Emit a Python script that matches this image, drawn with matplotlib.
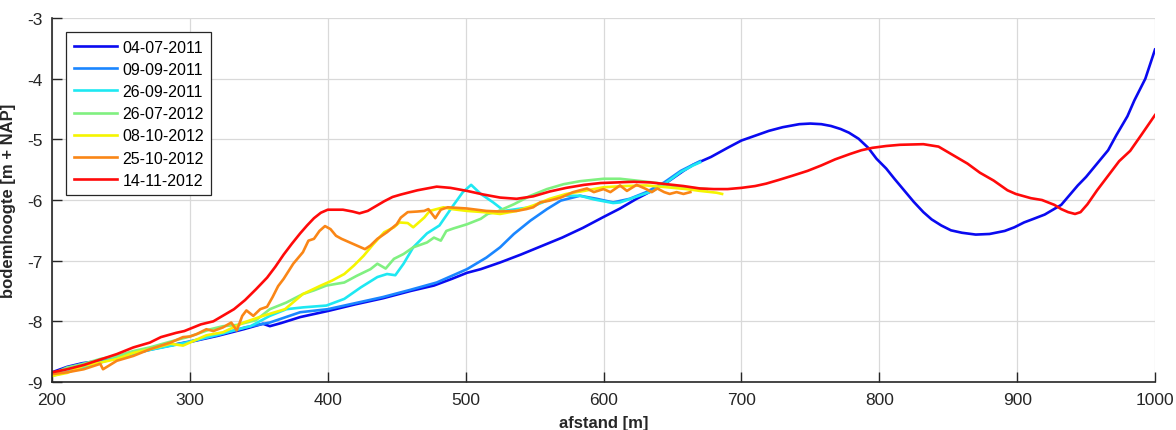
import matplotlib
matplotlib.use("Agg")
import matplotlib.pyplot as plt

plt.rcParams['font.family'] = ['Liberation Sans', 'DejaVu Sans']
plt.rcParams['axes.unicode_minus'] = False

# 04-07-2011
x_0407_11 = [200, 211, 222, 235, 247, 260, 271, 285, 300, 320, 339, 353, 358, 366, 380, 400,
             420, 440, 460, 477, 490, 501, 511, 525, 540, 555, 570, 585, 600, 612, 624, 635,
             646, 658, 665, 678, 690, 700, 710, 720, 730, 742, 750, 758, 765, 772, 778, 785,
             792, 798, 805, 811, 818, 825, 832, 838, 845, 852, 860, 870, 880, 891, 898, 905,
             912, 920, 932, 944, 950, 958, 966, 972, 980, 985, 993, 1000]
y_0407_11 = [-8.84, -8.75, -8.69, -8.65, -8.59, -8.52, -8.46, -8.40, -8.34, -8.24, -8.13, -8.04,
             -8.08, -8.03, -7.93, -7.83, -7.72, -7.62, -7.50, -7.41, -7.30, -7.20, -7.14, -7.03,
             -6.90, -6.76, -6.62, -6.46, -6.28, -6.14, -5.98, -5.85, -5.71, -5.52, -5.42, -5.29,
             -5.14, -5.02, -4.94, -4.86, -4.80, -4.75, -4.74, -4.75, -4.78, -4.83, -4.89, -4.99,
             -5.14, -5.32, -5.48, -5.65, -5.84, -6.03, -6.20, -6.32, -6.42, -6.50, -6.54, -6.57,
             -6.56, -6.51, -6.45, -6.37, -6.31, -6.24, -6.08, -5.76, -5.62, -5.40, -5.18, -4.93,
             -4.62, -4.36, -4.00, -3.52]

# 09-09-2011
x_0909_11 = [200, 222, 247, 271, 300, 320, 340, 358, 380, 400, 420, 440, 460, 479, 501, 515,
             525, 535, 547, 559, 569, 583, 595, 607, 619, 631, 644, 656, 670]
y_0909_11 = [-8.86, -8.70, -8.60, -8.47, -8.33, -8.23, -8.10, -8.02, -7.85, -7.80, -7.70, -7.60,
             -7.48, -7.36, -7.14, -6.95, -6.78, -6.56, -6.34, -6.15, -6.01, -5.93, -5.98, -6.04,
             -5.98, -5.87, -5.71, -5.52, -5.36]

# 26-09-2011
x_2609_11 = [200, 223, 247, 271, 296, 320, 344, 358, 370, 382, 399, 412, 424, 436, 443, 449,
             455, 462, 472, 481, 491, 498, 504, 511, 520, 528, 537, 547, 559, 571, 583, 593,
             607, 612, 622, 636, 644, 656, 665, 670]
y_2609_11 = [-8.90, -8.76, -8.60, -8.47, -8.36, -8.22, -8.08, -7.91, -7.80, -7.77, -7.74, -7.63,
             -7.44, -7.27, -7.22, -7.24, -7.05, -6.78, -6.55, -6.42, -6.09, -5.87, -5.75, -5.90,
             -6.04, -6.18, -6.15, -6.12, -6.01, -5.93, -5.93, -5.99, -6.05, -6.04, -5.96, -5.85,
             -5.74, -5.54, -5.43, -5.38]

# 26-07-2012
x_2607_12 = [200, 211, 223, 235, 247, 259, 271, 285, 300, 315, 324, 334, 348, 358, 370, 382,
             390, 399, 412, 421, 431, 436, 442, 448, 455, 462, 472, 477, 482, 486, 491, 501,
             511, 516, 523, 535, 547, 559, 571, 583, 600, 612, 624, 639, 651, 663, 675]
y_2607_12 = [-8.87, -8.76, -8.70, -8.62, -8.57, -8.49, -8.43, -8.34, -8.25, -8.13, -8.08, -8.06,
             -7.98, -7.80, -7.69, -7.55, -7.49, -7.41, -7.36, -7.25, -7.14, -7.05, -7.13, -6.97,
             -6.89, -6.78, -6.70, -6.62, -6.67, -6.51, -6.47, -6.40, -6.31, -6.23, -6.19, -6.07,
             -5.93, -5.82, -5.74, -5.69, -5.65, -5.65, -5.68, -5.72, -5.77, -5.80, -5.82]

# 08-10-2012
x_0810_12 = [200, 211, 223, 235, 247, 259, 271, 286, 295, 300, 312, 324, 339, 353, 369, 382,
             395, 403, 412, 419, 426, 433, 441, 448, 452, 458, 462, 470, 474, 479, 484, 490,
             501, 513, 525, 537, 549, 561, 573, 586, 600, 615, 631, 646, 660, 670, 682, 686]
y_0810_12 = [-8.90, -8.85, -8.73, -8.68, -8.62, -8.52, -8.46, -8.37, -8.40, -8.35, -8.23, -8.18,
             -8.02, -7.91, -7.80, -7.55, -7.41, -7.33, -7.22, -7.08, -6.92, -6.73, -6.53, -6.45,
             -6.37, -6.38, -6.45, -6.29, -6.18, -6.15, -6.12, -6.15, -6.18, -6.20, -6.23, -6.18,
             -6.09, -5.98, -5.90, -5.85, -5.79, -5.77, -5.76, -5.79, -5.82, -5.85, -5.88, -5.90]

# 25-10-2012
x_2510_12 = [200, 211, 223, 235, 237, 247, 259, 271, 279, 286, 295, 300, 305, 312, 317, 324,
             330, 334, 338, 341, 346, 351, 356, 360, 364, 368, 375, 382, 386, 390, 394, 398,
             402, 406, 410, 416, 421, 427, 431, 436, 443, 450, 453, 458, 465, 470, 473, 478,
             482, 487, 501, 515, 525, 537, 544, 549, 554, 561, 569, 578, 588, 593, 600, 605,
             612, 617, 624, 631, 635, 639, 644, 648, 653, 658, 663]
y_2510_12 = [-8.87, -8.84, -8.79, -8.70, -8.79, -8.65, -8.57, -8.46, -8.40, -8.35, -8.26, -8.25,
             -8.21, -8.13, -8.16, -8.10, -8.02, -8.15, -7.91, -7.82, -7.91, -7.80, -7.76, -7.60,
             -7.42, -7.30, -7.05, -6.86, -6.67, -6.64, -6.51, -6.43, -6.48, -6.59, -6.64, -6.70,
             -6.75, -6.81, -6.75, -6.64, -6.53, -6.40, -6.29, -6.20, -6.19, -6.18, -6.15, -6.30,
             -6.16, -6.12, -6.14, -6.18, -6.19, -6.18, -6.15, -6.12, -6.04, -6.01, -5.96, -5.87,
             -5.81, -5.87, -5.82, -5.87, -5.76, -5.85, -5.75, -5.82, -5.87, -5.81, -5.87, -5.90,
             -5.87, -5.90, -5.87]

# 14-11-2012
x_1411_12 = [200, 211, 223, 235, 247, 259, 271, 279, 290, 296, 308, 317, 320, 332, 340, 348,
             356, 362, 368, 374, 380, 385, 390, 395, 400, 411, 418, 423, 429, 435, 441, 447,
             453, 465, 479, 489, 501, 513, 525, 537, 549, 561, 573, 586, 598, 610, 622, 634,
             646, 658, 670, 680, 690, 700, 710, 718, 727, 737, 748, 758, 768, 779, 787, 795,
             805, 815, 832, 843, 852, 864, 873, 883, 893, 899, 910, 918, 927, 932, 937, 942,
             946, 951, 958, 966, 974, 982, 990, 1000]
y_1411_12 = [-8.84, -8.79, -8.72, -8.63, -8.54, -8.43, -8.35, -8.26, -8.19, -8.16, -8.05, -8.00,
             -7.96, -7.80, -7.65, -7.47, -7.28, -7.10, -6.90, -6.72, -6.55, -6.42, -6.30, -6.21,
             -6.16, -6.16, -6.19, -6.22, -6.18, -6.10, -6.02, -5.95, -5.91, -5.84, -5.78, -5.80,
             -5.85, -5.91, -5.96, -5.98, -5.94, -5.86, -5.80, -5.75, -5.72, -5.71, -5.70, -5.71,
             -5.74, -5.77, -5.81, -5.82, -5.82, -5.80, -5.77, -5.73, -5.67, -5.60, -5.52, -5.43,
             -5.33, -5.24, -5.18, -5.14, -5.11, -5.09, -5.08, -5.12, -5.24, -5.40, -5.55, -5.68,
             -5.84, -5.90, -5.97, -6.00, -6.08, -6.15, -6.20, -6.23, -6.20, -6.07, -5.84, -5.60,
             -5.36, -5.19, -4.93, -4.60]

series = [
    ("04-07-2011", x_0407_11, y_0407_11, "#0a0af0"),
    ("09-09-2011", x_0909_11, y_0909_11, "#1a86ff"),
    ("26-09-2011", x_2609_11, y_2609_11, "#1ee8f2"),
    ("26-07-2012", x_2607_12, y_2607_12, "#80f080"),
    ("08-10-2012", x_0810_12, y_0810_12, "#f5f500"),
    ("25-10-2012", x_2510_12, y_2510_12, "#fa8616"),
    ("14-11-2012", x_1411_12, y_1411_12, "#ff0a0a"),
]

fig = plt.figure(figsize=(11.76, 4.31), dpi=100)
ax = fig.add_axes([52/1176, 1-383/431, (1155-52)/1176, (383-19)/431])

for label, xs, ys, c in series:
    ax.plot(xs, ys, color=c, lw=1.9, label=label)

ax.set_xlim(200, 1000)
ax.set_ylim(-9, -3)
ax.set_xticks(range(200, 1001, 100))
ax.set_yticks(range(-9, -2))
ax.grid(True, color="#d9d9d9", lw=0.9)
ax.set_axisbelow(True)
for s in ["top", "right"]:
    ax.spines[s].set_visible(False)
for s in ["left", "bottom"]:
    ax.spines[s].set_color("#262626")
    ax.spines[s].set_linewidth(1.2)
ax.tick_params(direction="in", length=7, width=1.0, colors="#262626", labelsize=12.5, pad=7)

ax.set_xlabel("afstand [m]", fontsize=12, fontweight="bold", color="#262626", labelpad=6)
ax.set_ylabel("bodemhoogte [m + NAP]", fontsize=12, fontweight="bold", color="#262626", labelpad=8)

leg = ax.legend(loc="upper left", fontsize=11.5, fancybox=False, framealpha=1,
                edgecolor="#262626", handlelength=2.7, handletextpad=0.35,
                labelspacing=0.45, borderaxespad=0.9, borderpad=0.45)
leg.get_frame().set_linewidth(0.9)

fig.savefig("out.png", dpi=100)
